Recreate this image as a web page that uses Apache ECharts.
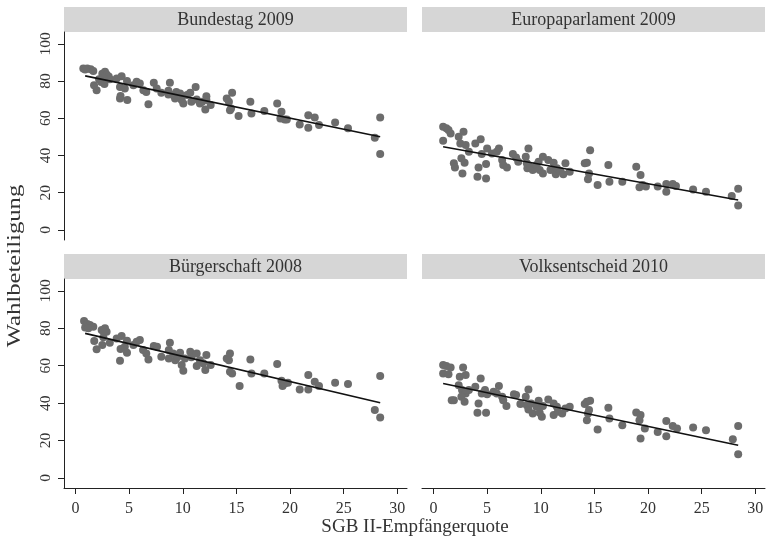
<!DOCTYPE html>
<html><head><meta charset="utf-8">
<script src="https://cdn.jsdelivr.net/npm/echarts@6/dist/echarts.min.js"></script>
<style>html,body{margin:0;padding:0;background:#fff}#c{width:767px;height:549px}</style>
</head><body><div id="c"></div>
<script>
const panelTitles = ["Bundestag 2009", "Europaparlament 2009", "Bürgerschaft 2008", "Volksentscheid 2010"];
const xTicks = [0, 5, 10, 15, 20, 25, 30];
const yTicks = [0, 20, 40, 60, 80, 100];
const xTitle = "SGB II-Empfängerquote";
const yTitle = "Wahlbeteiligung";

const bundestag2009 = [
[0.73,86.8],[1.1,86.8],[1.42,86.4],[1.66,85.5],[0.9,86.2],[1.73,77.8],[1.97,75.1],
[2.2,81.0],[2.5,84.0],[2.75,85.0],[2.9,83.5],[3.1,82.5],[2.4,79.5],[2.7,78.5],[3.2,81.0],[2.6,82.0],
[3.84,81.4],[4.15,70.7],[4.2,72.0],[4.3,82.6],[4.15,76.9],[4.6,76.0],[4.8,80.0],[4.83,69.8],
[5.4,77.8],[5.7,79.6],[6.0,78.7],[6.33,75.1],[6.6,74.2],[6.8,67.6],
[7.3,79.1],[7.57,76.0],[8.0,73.7],[8.66,74.8],[8.8,79.1],[8.66,72.8],
[9.1,72.5],[9.28,70.7],[9.4,74.2],[9.75,73.3],[9.9,69.8],[10.05,68.0],[10.4,72.5],
[10.7,73.7],[10.8,68.9],[11.2,76.9],[11.3,70.1],[11.6,68.0],[11.8,68.9],
[12.1,64.8],[12.2,71.9],[12.2,69.8],[12.6,67.1],
[14.1,70.7],[14.3,68.9],[14.4,64.4],[14.5,65.3],[14.6,73.7],
[15.2,61.2],[16.3,68.9],[16.4,62.6],[17.6,63.9],
[18.8,68.0],[19.2,63.5],[19.1,59.9],[19.5,59.4],[19.7,59.4],
[20.9,56.7],[21.7,61.7],[21.7,54.9],[22.3,60.5],[22.7,56.4],
[24.2,57.8],[25.4,54.6],[27.9,49.6],[28.4,60.5],[28.4,40.8]
];
const europa2009 = [
[0.9,55.5],[1.2,54.6],[1.4,53.7],[1.6,51.9],[0.9,47.9],
[2.35,50.1],[2.8,52.8],[2.5,46.5],[3.0,45.6],[3.3,42.0],
[1.9,35.8],[2.0,33.6],[2.7,30.4],[2.6,38.5],[2.9,36.1],
[3.9,46.5],[4.4,48.7],[4.5,40.8],[4.2,33.6],[4.1,28.6],[4.9,27.7],[4.9,35.4],[5.0,43.8],
[5.45,41.1],[5.9,42.0],[6.1,43.8],[6.4,37.6],[6.5,34.9],[6.85,33.6],
[7.4,40.8],[7.7,39.0],[7.9,36.7],[8.6,39.4],[8.85,43.8],
[8.7,35.8],[8.75,33.1],[9.0,34.0],[9.25,32.2],[9.6,34.9],[9.8,36.7],[10.2,39.4],[9.9,32.2],[10.2,30.4],
[10.7,37.6],[11.2,36.1],[10.9,32.2],[11.4,30.0],[11.5,33.1],[11.8,31.8],[12.1,30.0],[12.3,35.8],[12.7,31.3],
[14.1,35.8],[14.3,36.1],[14.6,42.9],[14.5,30.4],[14.4,27.2],
[15.3,24.2],[16.3,34.9],[16.4,25.9],[17.6,25.9],
[18.9,34.0],[19.3,29.5],[19.2,22.9],[19.5,24.2],[19.8,23.3],
[20.9,23.3],[21.7,24.7],[21.7,20.6],[22.3,24.7],[22.6,23.6],
[24.2,21.8],[25.4,20.6],[27.8,18.2],[28.4,22.2],[28.4,13.1]
];
const buergerschaft2008 = [
[0.8,83.9],[1.1,82.3],[1.35,81.8],[1.66,80.9],[0.9,80.5],[1.2,80.0],
[1.75,73.2],[1.97,68.8],
[2.44,79.1],[2.75,80.0],[2.9,78.2],[2.6,75.2],[2.5,71.1],[3.2,72.3],[2.6,78.5],
[3.84,74.6],[4.15,62.7],[4.3,75.9],[4.2,68.9],[4.6,70.2],[4.8,73.4],[4.8,67.0],
[5.4,71.1],[5.7,72.9],[6.0,73.8],[6.3,68.4],[6.6,66.6],[6.8,63.4],
[7.3,70.5],[7.6,70.2],[8.0,64.8],[8.7,68.4],[8.8,72.3],[8.7,63.9],
[9.1,66.6],[9.3,63.0],[9.5,64.5],[9.75,67.0],[9.9,60.4],[10.05,57.3],[10.2,63.9],
[10.7,67.5],[10.8,64.5],[11.3,66.6],[11.3,59.8],[11.6,63.0],[11.9,61.3],[12.1,57.7],[12.2,65.7],[12.6,60.4],
[14.1,63.9],[14.4,66.6],[14.4,56.8],[14.6,55.9],[14.3,63.0],
[15.3,49.1],[16.3,63.4],[16.4,55.9],[17.6,55.9],
[18.8,60.9],[19.2,52.0],[19.3,49.1],[19.5,50.5],[19.8,50.9],
[20.9,47.3],[21.7,55.0],[21.7,47.3],[22.3,51.4],[22.7,49.1],
[24.2,50.9],[25.4,50.2],[27.9,36.3],[28.4,54.5],[28.4,32.3]
];
const volksentscheid2010 = [
[0.9,60.4],[1.2,59.8],[1.6,59.1],[0.9,55.9],[1.4,55.5],
[2.76,59.1],[2.45,54.1],[3.0,55.0],[2.35,49.6],[2.66,47.0],[3.0,45.2],[3.3,47.0],
[1.9,41.6],[1.7,41.6],[2.6,43.4],[2.9,40.7],
[3.9,48.8],[4.4,53.2],[4.5,45.2],[4.2,39.8],[4.1,34.8],[4.9,34.8],[5.0,44.8],[4.8,47.0],
[5.6,46.1],[5.9,45.2],[6.1,49.1],[6.5,41.6],[6.8,38.4],[6.4,43.4],
[7.5,44.8],[7.7,44.3],[8.1,39.5],[8.6,43.4],[8.85,47.3],
[8.7,38.9],[8.85,36.6],[9.1,39.8],[9.25,34.5],[9.6,38.0],[9.8,41.3],[10.1,32.7],[10.2,38.4],[9.9,34.8],
[10.7,42.0],[11.2,39.8],[11.2,33.6],[11.5,38.0],[11.6,35.4],[12.0,34.5],[12.3,37.1],[12.7,38.0],
[14.1,39.5],[14.3,40.7],[14.6,41.3],[14.4,34.5],[14.3,30.9],[14.5,36.3],
[15.3,25.9],[16.3,37.5],[16.4,31.8],[17.6,28.2],
[18.9,35.0],[19.3,33.6],[19.2,30.9],[19.3,21.1],[19.7,26.4],
[20.9,24.6],[21.7,30.5],[21.7,22.3],[22.3,27.7],[22.7,26.4],
[24.2,27.0],[25.4,25.5],[27.9,20.7],[28.4,27.7],[28.4,12.7]
];

// fitted regression lines (start/end)
const fitX = [0.9, 28.4];
const fitBundestag = [82.8, 50.1];
const fitEuropa = [44.7, 16.1];
const fitBuergerschaft = [77.3, 40.2];
const fitVolksentscheid = [50.5, 17.5];

const panelData = [bundestag2009, europa2009, buergerschaft2008, volksentscheid2010];
const panelFits = [fitBundestag, fitEuropa, fitBuergerschaft, fitVolksentscheid];

const FONT = '"Liberation Serif","Times New Roman",serif';
const TXT = '#333';
const grids = [
  {left:64, top:32, width:343, height:208},
  {left:422, top:32, width:343, height:208},
  {left:64, top:279, width:343, height:209},
  {left:422, top:279, width:343, height:209}
];
const showY = [true,false,true,false];
const showX = [false,false,true,true];

const xAxes = grids.map((g,i)=>({
  gridIndex:i, type:'value', min:-1.07, max:30.9,
  show: showX[i],
  splitLine:{show:false},
  axisLine:{show:showX[i], onZero:false, lineStyle:{color:'#222', width:1}},
  axisTick:{show:showX[i], length:6, customValues:xTicks, lineStyle:{color:'#222'}},
  axisLabel:{show:showX[i], customValues:xTicks, margin:13, fontFamily:FONT, fontSize:16, color:TXT}
}));
const yAxes = grids.map((g,i)=>({
  gridIndex:i, type:'value', min:-5.4, max:106.4,
  show: showY[i],
  splitLine:{show:false},
  axisLine:{show:showY[i], onZero:false, lineStyle:{color:'#222', width:1}},
  axisTick:{show:showY[i], length:6, customValues:yTicks, lineStyle:{color:'#222'}},
  axisLabel:{show:showY[i], customValues:yTicks, rotate:90, margin:10, fontFamily:FONT, fontSize:15.5, color:TXT}
}));

const series = [];
panelData.forEach((d,i)=>{
  series.push({type:'scatter', xAxisIndex:i, yAxisIndex:i, data:d, symbolSize:8,
    itemStyle:{color:'#6c6c6c', opacity:1}, silent:true, z:2});
  series.push({type:'line', xAxisIndex:i, yAxisIndex:i,
    data: fitX.map((x,k)=>[x, panelFits[i][k]]), symbol:'none',
    lineStyle:{color:'#111', width:1.6}, silent:true, z:3});
});

const graphics = [];
grids.forEach((g,i)=>{
  const stripTop = g.top - 25;
  graphics.push({type:'rect', left:g.left, top:stripTop, shape:{width:g.width, height:25}, style:{fill:'#d6d6d6'}, silent:true});
  graphics.push({type:'text', x:g.left + g.width/2, y:stripTop + 13,
    style:{text:panelTitles[i], fontFamily:FONT, fontSize:18, fill:TXT, align:'center', verticalAlign:'middle'}, silent:true});
});
graphics.push({type:'text', x:415, y:527, style:{text:xTitle, fontFamily:FONT, fontSize:19, fill:TXT, align:'center', verticalAlign:'middle'}, silent:true});
graphics.push({type:'text', x:15, y:266, rotation:Math.PI/2, scaleX:1.3,
  style:{text:yTitle, fontFamily:FONT, fontSize:19, fill:TXT, align:'center', verticalAlign:'middle'}, silent:true});

const chart = echarts.init(document.getElementById('c'), null, {renderer:'canvas'});
chart.setOption({
  animation:false,
  backgroundColor:'#fff',
  grid: grids,
  xAxis: xAxes,
  yAxis: yAxes,
  series: series,
  graphic: graphics
});
</script></body></html>
